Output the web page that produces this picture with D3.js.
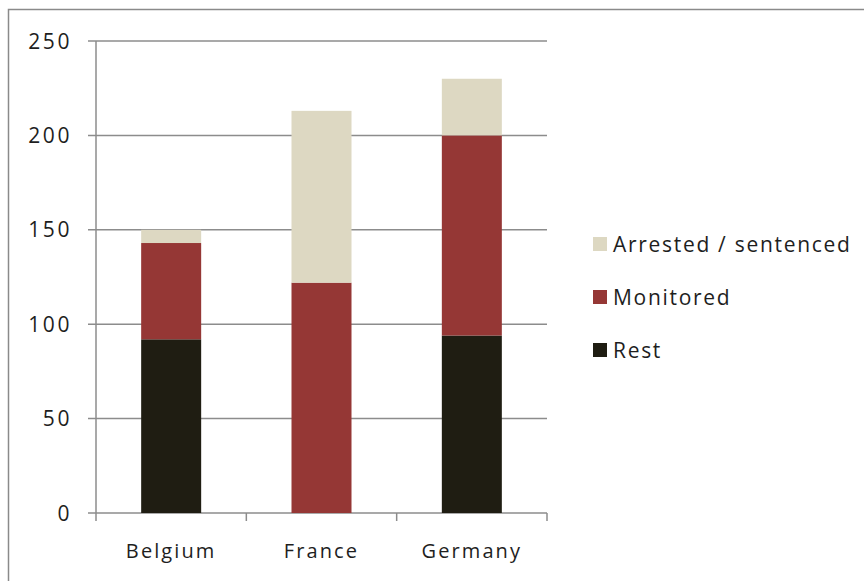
<!DOCTYPE html>
<html><head><meta charset="utf-8">
<script src="https://cdn.jsdelivr.net/npm/d3@7"></script>
<style>body{margin:0;background:#fff}svg{display:block}text{font-family:"Open Sans",Lato,sans-serif;fill:#1e1e1e}</style>
</head><body>
<svg id="c" width="864" height="581"></svg>
<script>
const categories = ["Belgium", "France", "Germany"];
const seriesNames = ["Rest", "Monitored", "Arrested / sentenced"];
const rest = [92, 0, 94];
const monitored = [51, 122, 106];
const arrested = [7, 91, 30];
const yTicks = [0, 50, 100, 150, 200, 250];
const colors = ["#1f1d12", "#953735", "#ddd8c2"];

const svg = d3.select("#c");
const M = {left: 96, right: 547, top: 41, bottom: 513};
svg.append("rect").attr("x", 8.5).attr("y", 9.5).attr("width", 900).attr("height", 600)
  .attr("fill", "none").attr("stroke", "#8a8a8a").attr("stroke-width", 1.5);

const xc = d3.scaleBand().domain(categories).range([M.left, M.right]);
const y = d3.scaleLinear().domain([0, 250]).range([M.bottom, M.top]);

const data = categories.map((c, i) => ({cat: c, Rest: rest[i], Monitored: monitored[i], "Arrested / sentenced": arrested[i]}));
const stack = d3.stack().keys(seriesNames)(data);

// gridlines
svg.append("g").selectAll("line").data(yTicks).join("line")
  .attr("x1", M.left - 8).attr("x2", M.right).attr("y1", d => y(d)).attr("y2", d => y(d))
  .attr("stroke", "#8c8c8c").attr("stroke-width", 1.5);
svg.append("line").attr("x1", M.left).attr("x2", M.left).attr("y1", M.top).attr("y2", M.bottom)
  .attr("stroke", "#8c8c8c").attr("stroke-width", 1.5);

// x axis ticks at band boundaries
const bounds = categories.map(c => xc(c)).concat([M.right]);
svg.append("g").selectAll("line").data(bounds).join("line")
  .attr("x1", d => d).attr("x2", d => d).attr("y1", M.bottom).attr("y2", M.bottom + 8)
  .attr("stroke", "#8c8c8c").attr("stroke-width", 1.5);

// bars
const bw = 60;
svg.append("g").selectAll("g").data(stack).join("g")
  .attr("fill", (d, i) => colors[i])
  .selectAll("rect").data(d => d).join("rect")
  .attr("x", d => xc(d.data.cat) + xc.bandwidth() / 2 - bw / 2)
  .attr("width", bw)
  .attr("y", d => y(d[1]))
  .attr("height", d => y(d[0]) - y(d[1]));

// y labels
svg.append("g").selectAll("text").data(yTicks).join("text")
  .attr("x", 72).attr("y", d => y(d)).attr("dy", "0.36em").attr("text-anchor", "end")
  .attr("font-size", 21).attr("letter-spacing", 2.6).text(d => d);

// x labels
svg.append("g").selectAll("text").data(categories).join("text")
  .attr("x", d => xc(d) + xc.bandwidth() / 2).attr("y", 551).attr("dy", "0.36em")
  .attr("text-anchor", "middle").attr("font-size", 20).attr("letter-spacing", 2.1).text(d => d);

// legend
const legendItems = seriesNames.slice().reverse();
const lg = svg.append("g").selectAll("g").data(legendItems).join("g")
  .attr("transform", (d, i) => `translate(593,${244 + i * 53})`);
lg.append("rect").attr("x", 0).attr("y", -7).attr("width", 14).attr("height", 14)
  .attr("fill", d => colors[seriesNames.indexOf(d)]);
lg.append("text").attr("x", 20).attr("dy", "0.36em").attr("font-size", 21).attr("letter-spacing", 1.7).text(d => d);
</script>
</body></html>
